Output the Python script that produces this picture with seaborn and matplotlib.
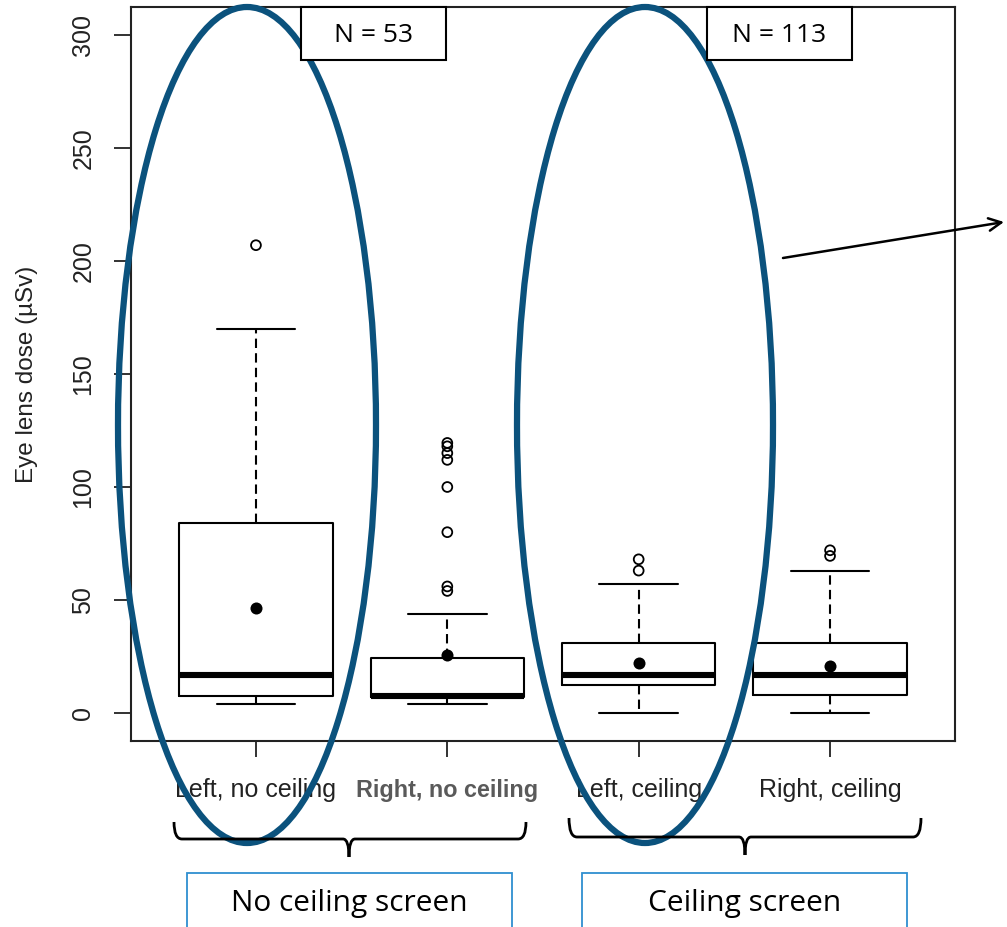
import numpy as np
import pandas as pd
import matplotlib
matplotlib.use("Agg")
import matplotlib.pyplot as plt
import seaborn as sns
from matplotlib.patches import Ellipse, Rectangle, PathPatch
from matplotlib.path import Path

# ---------------- data ----------------
categories = ["Left, no ceiling", "Right, no ceiling", "Left, ceiling", "Right, ceiling"]
positions = [1, 2, 3, 4]
q1 = [7.5, 7.0, 12.5, 8.0]
medians = [17.0, 7.6, 17.0, 17.0]
q3 = [84.0, 24.5, 31.0, 31.0]
whisker_low = [4.0, 4.0, 0.0, 0.0]
whisker_high = [170.0, 44.0, 57.0, 63.0]
means = [46.5, 25.5, 22.0, 21.0]
outliers = [
    [207.0],
    [54.0, 56.0, 80.0, 100.0, 112.0, 115.0, 118.0, 119.5],
    [63.0, 68.0],
    [69.5, 72.0],
]
y_ticks = [0, 50, 100, 150, 200, 250, 300]
group_counts = ["N = 53", "N = 113"]
group_names = ["No ceiling screen", "Ceiling screen"]

# ---------------- style ----------------
sns.set_style("white")
plt.rcParams['font.family'] = ['Liberation Sans', 'DejaVu Sans']

W, H = 1007, 927
fig = plt.figure(figsize=(W / 100, H / 100), dpi=100)
ax = fig.add_axes([131 / W, 1 - 741 / H, (955 - 131) / W, (741 - 7) / H])

stats = [
    dict(label=c, q1=a, med=m, q3=b, whislo=lo, whishi=hi, fliers=[])
    for c, a, m, b, lo, hi in zip(categories, q1, medians, q3, whisker_low, whisker_high)
]
ax.bxp(stats, positions=positions, widths=0.8, capwidths=0.41, showfliers=False,
       boxprops=dict(color="black", linewidth=1.5),
       medianprops=dict(color="black", linewidth=4.4, solid_capstyle="butt"),
       whiskerprops=dict(color="black", linewidth=1.5, linestyle=(0, (4.5, 2.5))),
       capprops=dict(color="black", linewidth=1.5))

mean_df = pd.DataFrame({"pos": positions, "mean": means})
sns.scatterplot(data=mean_df, x="pos", y="mean", color="black", edgecolor="black",
                s=75, linewidth=0, ax=ax, zorder=5, legend=False)

out_df = pd.DataFrame({
    "pos": [p for p, vals in zip(positions, outliers) for _ in vals],
    "value": [v for vals in outliers for v in vals],
})
sns.scatterplot(data=out_df, x="pos", y="value", color="black", facecolor="none",
                edgecolor="black", s=50, linewidth=1.3, ax=ax, zorder=5, legend=False)

ax.set_xlim(0.347, 4.653)
ax.set_ylim(-12.4, 312.4)
ax.set_xlabel("")
ax.set_yticks(y_ticks)
ax.set_yticklabels([str(t) for t in y_ticks], rotation=90, va="center", fontsize=18, color="#222222")
ax.set_xticks(positions)
ax.set_xticklabels(categories, fontsize=18, color="#222222")
lbl = ax.get_xticklabels()[1]
lbl.set_fontweight("bold")
lbl.set_color("#5a5a5a")
lbl.set_fontsize(16.8)
ax.tick_params(axis="y", left=True, length=12.2, width=1.3, pad=13.5, direction="out", color="#222222")
ax.tick_params(axis="x", bottom=True, length=11.5, width=1.3, pad=15.5, direction="out", color="#222222")
for s in ax.spines.values():
    s.set_visible(True)
    s.set_color("#222222")
    s.set_linewidth(1.5)
ax.set_ylabel("Eye lens dose (µSv)", fontsize=17.5, color="#222222")
ax.yaxis.set_label_coords((38 - 131) / 824, 0.5)

# ---------------- overlay annotations (pixel coordinates) ----------------
ov = fig.add_axes([0, 0, 1, 1], zorder=10)
ov.set_xlim(0, W)
ov.set_ylim(H, 0)
ov.axis("off")
ov.patch.set_alpha(0)

ell_color = "#0b527d"
ov.add_patch(Ellipse((247, 425), 258, 836, fill=False, ec=ell_color, lw=4.5))
ov.add_patch(Ellipse((645, 425), 256, 836, fill=False, ec=ell_color, lw=4.5))

ann_font = ["Open Sans", "DejaVu Sans"]
for (x0, txt) in zip([301, 707], group_counts):
    ov.add_patch(Rectangle((x0, 7), 145, 53, fc="white", ec="black", lw=1.5, zorder=3))
    ov.text(x0 + 72.5, 35, txt, ha="center", va="center", fontsize=19, family=ann_font,
            color="black", zorder=4)

for (x0, txt) in zip([187, 582], group_names):
    ov.add_patch(Rectangle((x0, 873), 325, 70, fc="white", ec="#2f8fd0", lw=1.3, zorder=3))
    ov.text(x0 + 162.5, 904, txt, ha="center", va="center", fontsize=21.5, family=ann_font,
            color="black", zorder=4)


def brace(x0, x1, xm, ytop, ybar, ytip):
    verts = [(x0, ytop), (x0, ybar), (x0 + 8, ybar), (xm - 6, ybar), (xm, ybar), (xm, ytip),
             (xm, ytip), (xm, ybar), (xm + 6, ybar), (x1 - 8, ybar), (x1, ybar), (x1, ytop)]
    codes = [Path.MOVETO, Path.CURVE3, Path.CURVE3, Path.LINETO, Path.CURVE3, Path.CURVE3,
             Path.MOVETO, Path.CURVE3, Path.CURVE3, Path.LINETO, Path.CURVE3, Path.CURVE3]
    ov.add_patch(PathPatch(Path(verts, codes), fill=False, ec="black", lw=2.0))


brace(174, 526, 349, 822, 839, 857)
brace(569, 921, 745, 818, 837, 855)

ov.annotate("", xy=(1004, 222), xytext=(783, 258), annotation_clip=False,
            arrowprops=dict(arrowstyle="->,head_length=0.9,head_width=0.45", color="black",
                            lw=1.8, shrinkA=0, shrinkB=0))

fig.savefig("out.png", dpi=100)
